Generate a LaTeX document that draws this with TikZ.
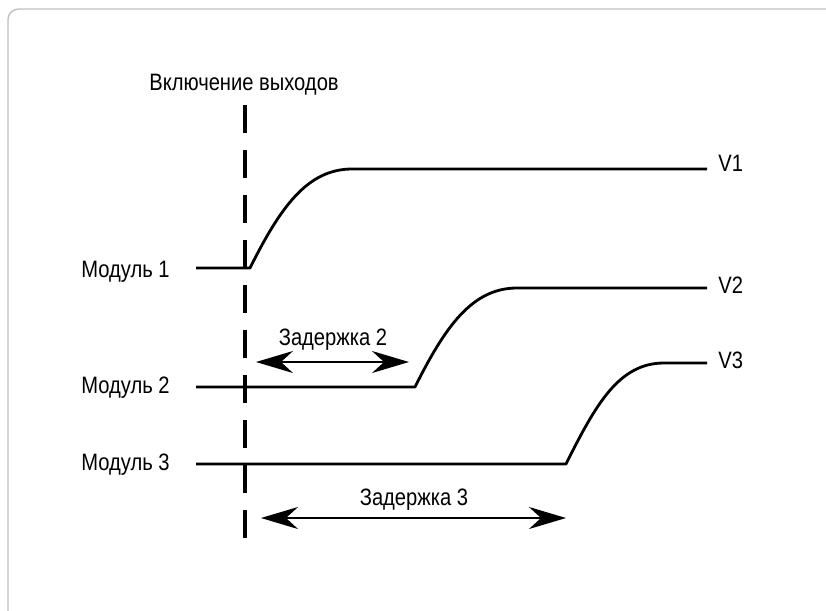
\documentclass[tikz,border=0pt]{standalone}
\usepackage{fontspec}
\setmainfont{Liberation Sans}[FakeStretch=0.85]
\usetikzlibrary{arrows.meta}
\usetikzlibrary{positioning}

\tikzset{
  signal/.style={line width=1.6pt},
  marker/.style={line width=2.2pt,dash pattern=on 0.56cm off 0.34cm},
  delay/.style={line width=1.1pt,{Stealth[length=0.74cm,width=0.44cm,inset=0.24cm]}-{Stealth[length=0.74cm,width=0.44cm,inset=0.24cm]}},
  lbl/.style={inner sep=0pt,font=\fontsize{13.5}{15}\selectfont}
}

\begin{document}
\begin{tikzpicture}[line cap=butt,line join=round,x=0.02cm,y=-0.02cm]
\useasboundingbox (0,0) rectangle (826,610);
\clip (0,0) rectangle (826,610);
\draw[black!25,line width=0.8pt,rounded corners=6pt] (8,9) rectangle (840,625);

% moment of switching on
\node[lbl,anchor=base] (title) at (244,90) {Включение выходов};
\coordinate (m0) at (245,105);
\coordinate (m1) at (245,540);
\draw[marker] (m0) -- (m1);

% module labels
\node[lbl,anchor=base east] (mod1) at (170,277) {Модуль 1};
\node[lbl,anchor=base east] (mod2) at (170,393) {Модуль 2};
\node[lbl,anchor=base east] (mod3) at (170,470) {Модуль 3};
\node[lbl,anchor=base west] (v1) at (718,171) {V1};
\node[lbl,anchor=base west] (v2) at (718,293) {V2};
\node[lbl,anchor=base west] (v3) at (718,368) {V3};

% signal points
\coordinate (a1) at (196,268); \coordinate (b1) at (250,268);
\coordinate (c1) at (352,169); \coordinate (d1) at (707,169);
\coordinate (a2) at (196,387); \coordinate (b2) at (415,387);
\coordinate (c2) at (517,288); \coordinate (d2) at (707,288);
\coordinate (a3) at (196,464); \coordinate (b3) at (566,464);
\coordinate (c3) at (664,363); \coordinate (d3) at (707,363);

\draw[signal] (a1) -- (b1) .. controls +(30,-60) and +(-45,0) .. (c1) -- (d1);
\draw[signal] (a2) -- (b2) .. controls +(30,-60) and +(-45,0) .. (c2) -- (d2);
\draw[signal] (a3) -- (b3) .. controls +(30,-60) and +(-45,0) .. (c3) -- (d3);

% delays
\coordinate (p2) at (256,362); \coordinate (q2) at (409,362);
\coordinate (p3) at (261,518); \coordinate (q3) at (566,518);
\draw[delay] (p2) -- (q2);
\draw[delay] (p3) -- (q3);
\node[lbl,anchor=base] (del2) at (333,345) {Задержка 2};
\node[lbl,anchor=base] (del3) at (414,505) {Задержка 3};
\end{tikzpicture}
\end{document}
